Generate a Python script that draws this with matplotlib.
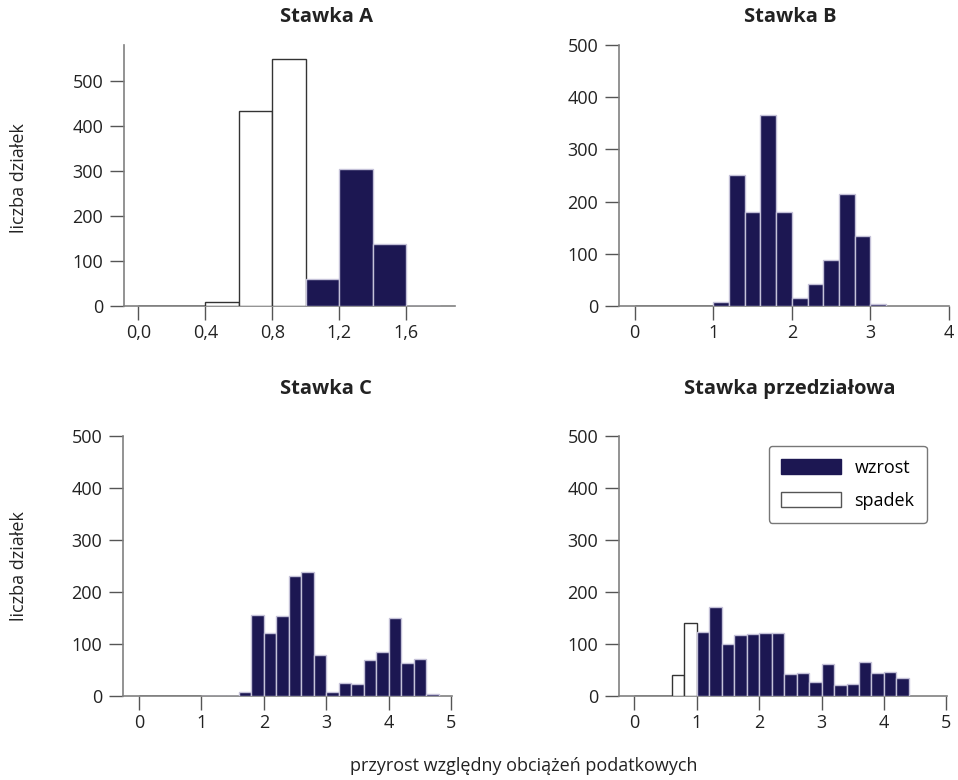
import numpy as np
import matplotlib.pyplot as plt
from matplotlib.patches import Patch

plt.rcParams['font.family'] = ['Open Sans', 'DejaVu Sans']

# bin width 0.2; spadek bins start at 0.0, wzrost bins start at 1.0
binw = 0.2

spadek_A = [0, 0, 8, 432, 549]
wzrost_A = [60, 305, 137, 0]

spadek_B = [0, 0, 0, 0, 0]
wzrost_B = [8, 250, 180, 366, 180, 16, 42, 88, 215, 134, 3]

spadek_C = [0, 0, 0, 0, 0]
wzrost_C = [0, 0, 0, 8, 156, 121, 154, 231, 238, 78, 8, 25, 24, 69, 85, 150, 64, 71, 3]

spadek_D = [0, 0, 0, 41, 140]
wzrost_D = [124, 172, 100, 118, 119, 122, 122, 42, 44, 27, 62, 21, 24, 65, 44, 47, 35]

titles = ['Stawka A', 'Stawka B', 'Stawka C', 'Stawka przedziałowa']
xticks_A = [0.0, 0.4, 0.8, 1.2, 1.6]
xticklabels_A = ['0,0', '0,4', '0,8', '1,2', '1,6']
yticks = [0, 100, 200, 300, 400, 500]

navy = '#1c1752'
navy_edge = '#c4c1d8'
dark = '#333333'
grey = '#808080'
txt = '#222222'

W, H = 958, 780
fig = plt.figure(figsize=(W / 100, H / 100), dpi=100)


def px_axes(left, right, top, bottom):
    return fig.add_axes([left / W, 1 - bottom / H, (right - left) / W, (bottom - top) / H])


axA = px_axes(124, 455, 45, 306)
axB = px_axes(619, 949, 45, 306)
axC = px_axes(123, 452, 436, 696)
axD = px_axes(619, 947, 436, 696)

panels = [
    (axA, spadek_A, wzrost_A, (-0.085, 1.89), (0, 579)),
    (axB, spadek_B, wzrost_B, (-0.2, 4.0), (0, 500)),
    (axC, spadek_C, wzrost_C, (-0.256, 5.01), (0, 500)),
    (axD, spadek_D, wzrost_D, (-0.245, 5.01), (0, 500)),
]

for ax, sp, wz, xl, yl in panels:
    sp_edges = np.arange(len(sp)) * binw
    wz_edges = 1.0 + np.arange(len(wz)) * binw
    ax.bar(sp_edges, sp, width=binw, align='edge', facecolor='white',
           edgecolor=dark, linewidth=1.0, zorder=3)
    ax.bar(wz_edges, wz, width=binw, align='edge', facecolor=navy,
           edgecolor=navy_edge, linewidth=1.0, zorder=3)
    ax.set_xlim(*xl)
    ax.set_ylim(*yl)
    ax.set_yticks(yticks)
    for s in ['top', 'right']:
        ax.spines[s].set_visible(False)
    for s in ['left', 'bottom']:
        ax.spines[s].set_color(grey)
        ax.spines[s].set_linewidth(1.2)
    ax.tick_params(axis='y', direction='out', length=10, width=1.0,
                   color='#555555', labelcolor=txt, labelsize=13, pad=5)
    ax.tick_params(axis='x', direction='out', length=10, width=1.0,
                   color='#555555', labelcolor=txt, labelsize=13, pad=3)

axA.set_xticks(xticks_A)
axA.set_xticklabels(xticklabels_A)
axB.set_xticks([0, 1, 2, 3, 4])
axC.set_xticks([0, 1, 2, 3, 4, 5])
axD.set_xticks([0, 1, 2, 3, 4, 5])

# titles
fig.text(326 / W, 1 - 17 / H, titles[0], ha='center', va='center', fontsize=14.5, fontweight='bold', color=txt)
fig.text(790 / W, 1 - 17 / H, titles[1], ha='center', va='center', fontsize=14.5, fontweight='bold', color=txt)
fig.text(326 / W, 1 - 389 / H, titles[2], ha='center', va='center', fontsize=14.5, fontweight='bold', color=txt)
fig.text(790 / W, 1 - 389 / H, titles[3], ha='center', va='center', fontsize=14.5, fontweight='bold', color=txt)

# axis labels
fig.text(19 / W, 1 - 178 / H, 'liczba działek', rotation=90, ha='center', va='center', fontsize=13, color=txt)
fig.text(19 / W, 1 - 566 / H, 'liczba działek', rotation=90, ha='center', va='center', fontsize=13, color=txt)
fig.text(524 / W, 1 - 766 / H, 'przyrost względny obciążeń podatkowych', ha='center', va='center',
         fontsize=13, color=txt)

handles = [Patch(facecolor=navy, edgecolor=navy, label='wzrost'),
           Patch(facecolor='white', edgecolor='#555555', label='spadek')]
leg = axD.legend(handles=handles, loc='upper right', bbox_to_anchor=(0.939, 0.962),
                 borderaxespad=0, fontsize=13, handlelength=3.3, handleheight=0.95,
                 handletextpad=0.75, labelspacing=0.85, borderpad=0.7, fancybox=True,
                 framealpha=1, edgecolor='#777777')
leg.get_frame().set_linewidth(1.0)

fig.savefig('out.png', dpi=100)
